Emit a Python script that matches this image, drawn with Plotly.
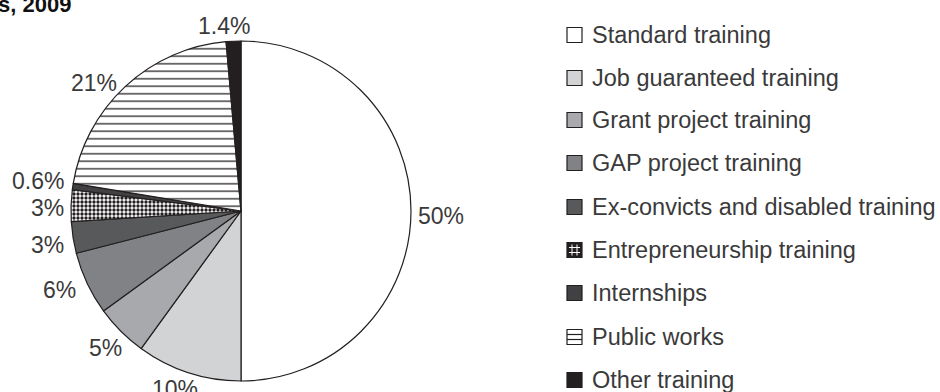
import plotly.graph_objects as go

# Training programme shares, 2009 (percent of participants)
labels = [
    "Standard training",
    "Job guaranteed training",
    "Grant project training",
    "GAP project training",
    "Ex-convicts and disabled training",
    "Entrepreneurship training",
    "Internships",
    "Public works",
    "Other training",
]
values = [50, 10, 5, 6, 3, 3, 0.6, 21, 1.4]

# Slice fills and patterns
fills = ["#ffffff", "#d1d3d4", "#a7a9ac", "#808285", "#58595b",
         "#ffffff", "#414042", "#ffffff", "#231f20"]
pat_shape = ["", "", "", "", "", ".", "", "-", ""]
pat_fg = ["#231f20"] * 9
pat_size = [8, 8, 8, 8, 8, 4, 8, 7.5, 8]
pat_solid = [0.3, 0.3, 0.3, 0.3, 0.3, 0.55, 0.3, 0.17, 0.3]

# Legend swatch fills
swatch = ["#ffffff", "#d1d3d4", "#a7a9ac", "#808285", "#58595b",
          "#231f20", "#414042", "#ffffff", "#231f20"]

# Percentage label anchors (pixel x, pixel y, horizontal anchor)
label_pos = [
    (416, 216, "left"),
    (175, 389, "center"),
    (105, 348, "center"),
    (60, 290, "center"),
    (66, 245, "right"),
    (66, 208, "right"),
    (66, 181, "right"),
    (94, 83, "center"),
    (224, 26, "center"),
]

# Legend rows (pixel y of each row centre)
legend_rows = [35, 78, 120, 163, 207, 250, 293, 337, 380]

W, H = 940, 392
INK = "#231f20"
TXT = "#3a3a3a"
FONT = "Liberation Sans, Arial, sans-serif"


def px(x):
    return x / W


def py(y):
    return 1 - y / H


fig = go.Figure()

fig.add_trace(go.Pie(
    labels=labels,
    values=values,
    sort=False,
    direction="clockwise",
    rotation=0,
    textinfo="none",
    hoverinfo="label+value",
    showlegend=False,
    marker=dict(
        colors=fills,
        line=dict(color=INK, width=1.2),
        pattern=dict(
            shape=pat_shape,
            fgcolor=pat_fg,
            bgcolor=fills,
            size=pat_size,
            solidity=pat_solid,
        ),
    ),
    domain=dict(x=[px(71), px(411)], y=[py(381), py(41)]),
))

annotations = []
shapes = []

# Percentage labels around the pie
for v, (x, y, anchor) in zip(values, label_pos):
    annotations.append(dict(
        x=px(x), y=py(y), xref="paper", yref="paper",
        text=f"{v:g}%", showarrow=False,
        xanchor=anchor, yanchor="middle",
        font=dict(family=FONT, size=23, color=TXT),
    ))

# Legend: swatch + text per category
SW_X0, SW_X1 = 567, 582
for i, (name, y) in enumerate(zip(labels, legend_rows)):
    y0, y1 = y - 7.5, y + 7.5
    shapes.append(dict(
        type="rect", xref="paper", yref="paper",
        x0=px(SW_X0), x1=px(SW_X1), y0=py(y1), y1=py(y0),
        fillcolor=swatch[i], line=dict(color=INK, width=1.2),
    ))
    if pat_shape[i] == "-":
        for k in (1, 2):
            yy = y0 + k * 5
            shapes.append(dict(
                type="line", xref="paper", yref="paper",
                x0=px(SW_X0), x1=px(SW_X1), y0=py(yy), y1=py(yy),
                line=dict(color=INK, width=1.2),
            ))
    elif pat_shape[i] == ".":
        for k in (1, 2):
            yy = y0 + k * 5
            xx = SW_X0 + k * 5
            shapes.append(dict(
                type="line", xref="paper", yref="paper",
                x0=px(SW_X0 + 2), x1=px(SW_X1 - 2), y0=py(yy), y1=py(yy),
                line=dict(color="#ffffff", width=1),
            ))
            shapes.append(dict(
                type="line", xref="paper", yref="paper",
                x0=px(xx), x1=px(xx), y0=py(y0 + 2), y1=py(y1 - 2),
                line=dict(color="#ffffff", width=1),
            ))
    annotations.append(dict(
        x=px(590), y=py(y), xref="paper", yref="paper",
        text=name, showarrow=False, xanchor="left", yanchor="middle",
        font=dict(family=FONT, size=23.5, color=TXT),
    ))

# Title fragment at the top-left corner
annotations.append(dict(
    x=px(-4), y=py(4), xref="paper", yref="paper",
    text="<b>s, 2009</b>", showarrow=False, xanchor="left", yanchor="middle",
    font=dict(family=FONT, size=22, color="#111111"),
))

fig.update_layout(
    width=W, height=H,
    margin=dict(l=0, r=0, t=0, b=0),
    paper_bgcolor="#ffffff",
    plot_bgcolor="#ffffff",
    showlegend=False,
    annotations=annotations,
    shapes=shapes,
)

fig.write_html("out.html")
